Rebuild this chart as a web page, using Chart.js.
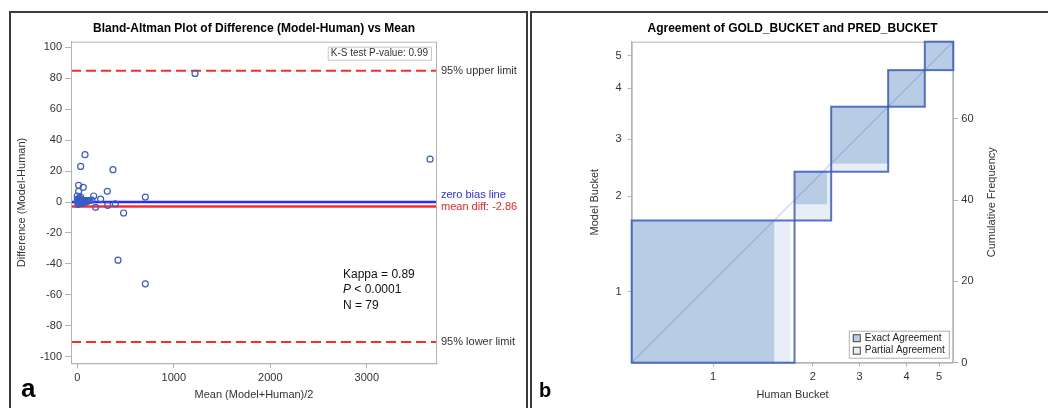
<!DOCTYPE html>
<html>
<head>
<meta charset="utf-8">
<script src="https://cdn.jsdelivr.net/npm/chart.js@4.4.1/dist/chart.umd.min.js"></script>
<style>
  html, body { margin: 0; padding: 0; background: #fff; }
  body { width: 1048px; height: 408px; position: relative; overflow: hidden; font-family: "Liberation Sans", Arial, sans-serif; }
  .panel { position: absolute; border: 2px solid #3c3c3c; box-sizing: border-box; }
  canvas { position: absolute; top: 0; }
  .tag { position: absolute; font-weight: bold; color: #000; font-family: "Liberation Sans", Arial, sans-serif; line-height: 1; }
</style>
</head>
<body>
<div class="panel" style="left:9px; top:11px; width:519px; height:420px;"></div>
<div class="panel" style="left:530px; top:11px; width:530px; height:420px;"></div>
<canvas id="cA" width="524" height="408" style="left:0; width:524px; height:408px;"></canvas>
<canvas id="cB" width="524" height="408" style="left:524px; width:524px; height:408px;"></canvas>
<div class="tag" style="left:21px; top:375px; font-size:26px;">a</div>
<div class="tag" style="left:539px; top:380px; font-size:20px;">b</div>
<script>
// ---------------- Data: Bland-Altman ----------------
const meanValues = [1220, 3655, 80, 35, 370, 14, 62, 14, 311, 705, 170, 242, 0, 35, 190, 315, 395, 480, 422, 705,
  5, 10, 20, 25, 30, 40, 45, 50, 55, 60, 70, 80, 90, 100, 110, 120, 130, 150, 8, 18, 28, 65, 12, 2, 38];
const diffValues = [83.2, 27.7, 30.6, 23, 20.9, 10.8, 9.5, 6.9, 6.9, 3.2, 3.9, 1.9, 3.9, 3.2, -3.4, -2.1, -1.1, -7.1, -37.6, -52.9,
  0, 1, 0, -1, 2, 0, 1, -1, 0, 1, 0, 1, 0, 1, 0.6, 1, 1, 1.2, -1.5, 2.5, 1.1, -0.5, 0.5, 1.8, -0.8];
const upperLimit = 84.84;
const lowerLimit = -90.56;
const meanDiff = -2.86;
const zeroBias = 0;
const meanAxisTicks = [0, 1000, 2000, 3000];
const diffAxisTicks = [-100, -80, -60, -40, -20, 0, 20, 40, 60, 80, 100];
const meanAxisRange = [-65, 3727];
const diffAxisRange = [-104.3, 103.7];

// ---------------- Data: Agreement plot ----------------
const bucketLabels = ['1', '2', '3', '4', '5'];
const humanTotals = [40, 9, 14, 9, 7];
const modelTotals = [35, 12, 16, 9, 7];
// [xFrom, xTo, yFrom, yTo] in cumulative frequency units
const exactCells = [[0, 35, 0, 35], [40, 48, 39, 47], [49, 63, 49, 63], [63, 72, 63, 72], [72, 79, 72, 79]];
const partialCells = [[0, 39, 0, 35], [40, 49, 35, 47], [49, 63, 47, 63]];
const freqTicks = [0, 20, 40, 60];

const FONT = '"Liberation Sans", Arial, sans-serif';
const TICKC = '#333';
const AXC = '#b4b4b4';

function cum(arr) { const out = [0]; arr.forEach(v => out.push(out[out.length - 1] + v)); return out; }
const humanCum = cum(humanTotals);
const modelCum = cum(modelTotals);
const N = humanCum[humanCum.length - 1];
const humanMids = humanTotals.map((v, i) => humanCum[i] + v / 2);
const modelMids = modelTotals.map((v, i) => modelCum[i] + v / 2);

function setTicks(vals) { return s => { s.ticks = vals.map(v => ({ value: v })); }; }

// ---------------- Chart A ----------------
const hline = (v, color, dash, w) => ({
  type: 'line',
  data: [{ x: meanAxisRange[0], y: v }, { x: meanAxisRange[1], y: v }],
  borderColor: color, borderWidth: w || 2, borderDash: dash, pointRadius: 0, fill: false
});

const decoA = {
  id: 'decoA',
  afterDraw(chart) {
    const { ctx, chartArea: ca } = chart;
    const ys = chart.scales.y;
    ctx.save();
    ctx.strokeStyle = AXC; ctx.lineWidth = 1;
    ctx.strokeRect(ca.left + 0.5, ca.top + 0.5, ca.right - ca.left - 1, ca.bottom - ca.top);
    // title
    ctx.fillStyle = '#000';
    ctx.font = 'bold 12px ' + FONT;
    ctx.textAlign = 'center'; ctx.textBaseline = 'middle';
    ctx.fillText('Bland-Altman Plot of Difference (Model-Human) vs Mean', (ca.left + ca.right) / 2, 29);
    // axis titles
    ctx.fillStyle = '#333';
    ctx.font = '11px ' + FONT;
    ctx.fillText('Mean (Model+Human)/2', (ca.left + ca.right) / 2, 395);
    ctx.save();
    ctx.translate(22, (ca.top + ca.bottom) / 2);
    ctx.rotate(-Math.PI / 2);
    ctx.fillText('Difference (Model-Human)', 0, 0);
    ctx.restore();
    // right labels
    ctx.textAlign = 'left';
    ctx.fillStyle = '#333';
    ctx.fillText('95% upper limit', ca.right + 4, ys.getPixelForValue(upperLimit));
    ctx.fillText('95% lower limit', ca.right + 4, ys.getPixelForValue(lowerLimit));
    ctx.fillStyle = '#2b2bff';
    ctx.fillText('zero bias line', ca.right + 4, ys.getPixelForValue(zeroBias) - 7);
    ctx.fillStyle = '#ff2020';
    ctx.fillText('mean diff: ' + meanDiff.toFixed(2), ca.right + 4, ys.getPixelForValue(meanDiff) + 1);
    // K-S box
    ctx.font = '10px ' + FONT;
    const ks = 'K-S test P-value: 0.99';
    const w = ctx.measureText(ks).width + 6;
    const bx = ca.right - 6 - w, by = ca.top + 5;
    ctx.fillStyle = '#fff';
    ctx.fillRect(bx, by, w, 13);
    ctx.strokeStyle = '#c8c8c8';
    ctx.strokeRect(bx + 0.5, by + 0.5, w, 13);
    ctx.fillStyle = '#333';
    ctx.fillText(ks, bx + 3, by + 7);
    // stats text
    ctx.fillStyle = '#111';
    ctx.font = '12px ' + FONT;
    ctx.fillText('Kappa = 0.89', 343, 275);
    ctx.font = 'italic 12px ' + FONT;
    ctx.fillText('P', 343, 290);
    const pw = ctx.measureText('P').width;
    ctx.font = '12px ' + FONT;
    ctx.fillText(' < 0.0001', 343 + pw, 290);
    ctx.fillText('N = 79', 343, 306);
    ctx.restore();
  }
};

new Chart(document.getElementById('cA'), {
  type: 'scatter',
  data: {
    datasets: [
      {
        data: meanValues.map((m, i) => ({ x: m, y: diffValues[i] })),
        pointStyle: 'circle', pointRadius: 3, pointBorderWidth: 1.2,
        pointBorderColor: '#3a5cc4', pointBackgroundColor: 'rgba(0,0,0,0)', showLine: false
      },
      hline(zeroBias, '#2b2bff', [], 2.5),
      hline(meanDiff, '#ff2a2a', [], 2.5),
      hline(upperLimit, '#ff2a2a', [10, 5]),
      hline(lowerLimit, '#ff2a2a', [10, 5])
    ]
  },
  options: {
    responsive: false, animation: false, devicePixelRatio: 1,
    layout: { padding: { left: 0, top: 41.7, right: 87, bottom: 0 } },
    plugins: { legend: { display: false }, tooltip: { enabled: false } },
    scales: {
      x: {
        type: 'linear', min: meanAxisRange[0], max: meanAxisRange[1],
        afterBuildTicks: setTicks(meanAxisTicks),
        afterFit: s => { s.height = 44.7; },
        grid: { drawOnChartArea: false, tickLength: 5, color: AXC },
        border: { color: AXC },
        ticks: { font: { size: 11, family: FONT }, color: TICKC, padding: 3, maxRotation: 0,
          callback: v => String(v) }
      },
      y: {
        type: 'linear', min: diffAxisRange[0], max: diffAxisRange[1],
        afterBuildTicks: setTicks(diffAxisTicks),
        afterFit: s => { s.width = 71; },
        grid: { drawOnChartArea: false, tickLength: 6, color: AXC },
        border: { color: AXC },
        ticks: { font: { size: 11, family: FONT }, color: TICKC, padding: 3, callback: v => String(v) }
      }
    }
  },
  plugins: [decoA]
});

// ---------------- Chart B ----------------
function rectPx(chart, r) {
  const xs = chart.scales.x, ys = chart.scales.y;
  const x0 = xs.getPixelForValue(r[0]), x1 = xs.getPixelForValue(r[1]);
  const y0 = ys.getPixelForValue(r[2]), y1 = ys.getPixelForValue(r[3]);
  return [Math.min(x0, x1), Math.min(y0, y1), Math.abs(x1 - x0), Math.abs(y1 - y0)];
}
const DARK = '#b8cce4';
const LIGHT = '#e7eef8';
const decoB = {
  id: 'decoB',
  beforeDatasetsDraw(chart) {
    const { ctx, chartArea: ca } = chart;
    ctx.save();
    ctx.beginPath(); ctx.rect(ca.left, ca.top, ca.right - ca.left, ca.bottom - ca.top); ctx.clip();
    ctx.fillStyle = LIGHT;
    partialCells.forEach(r => { const p = rectPx(chart, r); ctx.fillRect(p[0], p[1], p[2], p[3]); });
    ctx.fillStyle = DARK;
    exactCells.forEach(r => { const p = rectPx(chart, r); ctx.fillRect(p[0], p[1], p[2], p[3]); });
    ctx.restore();
  },
  afterDraw(chart) {
    const { ctx, chartArea: ca } = chart;
    ctx.save();
    ctx.strokeStyle = AXC; ctx.lineWidth = 1;
    ctx.strokeRect(ca.left + 0.5, ca.top + 0.5, ca.right - ca.left - 1, ca.bottom - ca.top);
    // category boxes
    ctx.strokeStyle = 'rgba(58,90,190,0.85)'; ctx.lineWidth = 2;
    for (let i = 0; i < humanTotals.length; i++) {
      const p = rectPx(chart, [humanCum[i], humanCum[i + 1], modelCum[i], modelCum[i + 1]]);
      ctx.strokeRect(p[0], p[1], p[2], p[3]);
    }
    // titles
    ctx.fillStyle = '#000';
    ctx.font = 'bold 12px ' + FONT;
    ctx.textAlign = 'center'; ctx.textBaseline = 'middle';
    ctx.fillText('Agreement of GOLD_BUCKET and PRED_BUCKET', (ca.left + ca.right) / 2, 29);
    ctx.fillStyle = '#333';
    ctx.font = '11px ' + FONT;
    ctx.fillText('Human Bucket', (ca.left + ca.right) / 2, 395);
    ctx.save();
    ctx.translate(71, (ca.top + ca.bottom) / 2);
    ctx.rotate(-Math.PI / 2);
    ctx.fillText('Model Bucket', 0, 0);
    ctx.restore();
    ctx.save();
    ctx.translate(468, (ca.top + ca.bottom) / 2);
    ctx.rotate(-Math.PI / 2);
    ctx.fillText('Cumulative Frequency', 0, 0);
    ctx.restore();
    // legend
    const lw = 100, lh = 27;
    const lx = ca.right - 4.5 - lw, ly = ca.bottom - 5 - lh;
    ctx.fillStyle = '#fff';
    ctx.fillRect(lx, ly, lw, lh);
    ctx.strokeStyle = '#b0b0b0'; ctx.lineWidth = 1;
    ctx.strokeRect(lx + 0.5, ly + 0.5, lw, lh);
    const items = [['Exact Agreement', DARK], ['Partial Agreement', LIGHT]];
    ctx.font = '10px ' + FONT;
    ctx.textAlign = 'left';
    items.forEach((it, k) => {
      const cy = ly + 7.5 + k * 12.5;
      ctx.fillStyle = it[1];
      ctx.fillRect(lx + 4, cy - 3.5, 7, 7);
      ctx.strokeStyle = '#444';
      ctx.strokeRect(lx + 4.5, cy - 3.5, 7, 7);
      ctx.fillStyle = '#222';
      ctx.fillText(it[0], lx + 16, cy);
    });
    ctx.restore();
  }
};

new Chart(document.getElementById('cB'), {
  type: 'scatter',
  data: {
    datasets: [{
      data: [{ x: 0, y: 0 }, { x: N, y: N }],
      showLine: true, borderColor: 'rgba(90,120,210,0.35)', borderWidth: 1.2, pointRadius: 0, yAxisID: 'y'
    }]
  },
  options: {
    responsive: false, animation: false, devicePixelRatio: 1,
    layout: { padding: { left: 0, top: 41.7, right: 0, bottom: 0 } },
    plugins: { legend: { display: false }, tooltip: { enabled: false } },
    scales: {
      x: {
        type: 'linear', min: 0, max: N,
        afterBuildTicks: setTicks(humanMids),
        afterFit: s => { s.height = 45.3; },
        grid: { drawOnChartArea: false, tickLength: 4, color: AXC },
        border: { color: AXC },
        ticks: { font: { size: 11, family: FONT }, color: TICKC, padding: 4, maxRotation: 0,
          callback: (v, i) => bucketLabels[i] }
      },
      y: {
        type: 'linear', position: 'left', min: 0, max: N,
        afterBuildTicks: setTicks(modelMids),
        afterFit: s => { s.width = 107.7; },
        grid: { drawOnChartArea: false, tickLength: 4, color: AXC },
        border: { color: AXC },
        ticks: { font: { size: 11, family: FONT }, color: TICKC, padding: 6, callback: (v, i) => bucketLabels[i] }
      },
      y2: {
        type: 'linear', position: 'right', min: 0, max: N,
        afterBuildTicks: setTicks(freqTicks),
        afterFit: s => { s.width = 94.7; },
        grid: { drawOnChartArea: false, tickLength: 5, color: AXC },
        border: { color: AXC },
        ticks: { font: { size: 11, family: FONT }, color: TICKC, padding: 3 }
      }
    }
  },
  plugins: [decoB]
});
</script>
</body>
</html>
